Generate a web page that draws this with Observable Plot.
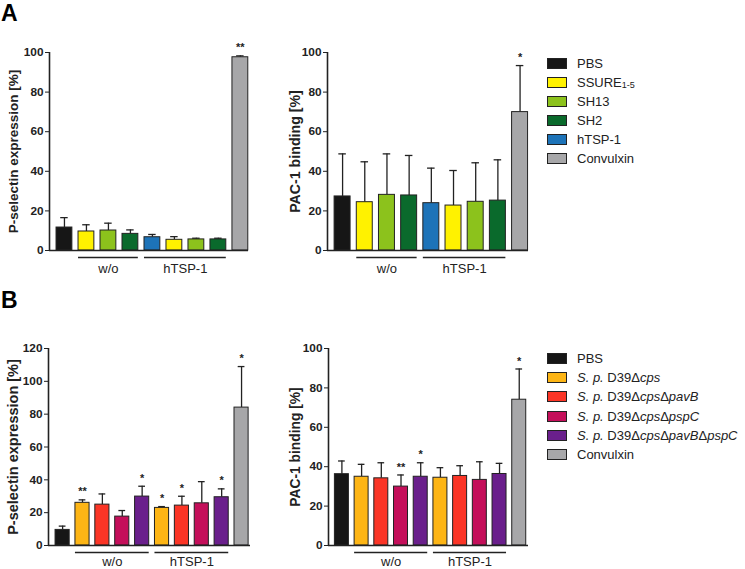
<!DOCTYPE html>
<html><head><meta charset="utf-8">
<script src="https://cdn.jsdelivr.net/npm/d3@7"></script>
<script src="https://cdn.jsdelivr.net/npm/@observablehq/plot@0.6"></script>
<style>
body{margin:0;background:#fff;font-family:Arial,"Liberation Sans",sans-serif;}
#root{position:relative;width:745px;height:569px;overflow:hidden;background:#fff}
.panel{position:absolute;overflow:visible}
.panel svg{overflow:visible}
.plab{position:absolute;font-weight:bold;font-size:23px;line-height:1}
.row{position:absolute;height:19px;display:flex;align-items:center;white-space:nowrap;font-size:13px;color:#222}
.sw{width:18px;height:9px;border:1px solid #222;margin-right:10px;flex:none}
sub{font-size:9px;vertical-align:baseline;position:relative;top:1px}
</style></head>
<body><div id="root"></div>
<script>
// ---------- Panel A data ----------
const seriesA = ["PBS","SSURE1-5","SH13","SH2","hTSP-1","Convulxin"];
const colorsA = ["#161616","#fff200","#8cc21c","#0a6a2c","#1d73b8","#a7a7a9"];
const barSeriesA = [0,1,2,3,4,1,2,3,5];            // which series each bar belongs to
const pselA     = [11.6, 9.6, 10.1, 8.4, 6.7, 5.4, 5.6, 5.6, 97.6];
const pselAtop  = [16.6, 13.0, 13.8, 10.4, 8.1, 7.0, 6.2, 6.2, 98.3];
const pselAstar = ["","","","","","","","","**"];
const pacA      = [27.3, 24.4, 28.1, 27.8, 23.9, 22.7, 24.6, 25.2, 69.9];
const pacAtop   = [48.8, 44.8, 48.8, 48.0, 41.6, 40.4, 44.3, 45.8, 93.4];
const pacAstar  = ["","","","","","","","","*"];
const groupsA = [{label:"w/o", from:1, to:3}, {label:"hTSP-1", from:4, to:7}];

// ---------- Panel B data ----------
const seriesB = ["PBS","S. p. D39Δcps","S. p. D39ΔcpsΔpavB","S. p. D39ΔcpsΔpspC","S. p. D39ΔcpsΔpavBΔpspC","Convulxin"];
const colorsB = ["#161616","#fdb515","#fb3526","#c40f5a","#6a1f8c","#a7a7a9"];
const barSeriesB = [0,1,2,3,4,1,2,3,4,5];
const pselB     = [9.5, 26.0, 24.9, 17.6, 29.8, 22.9, 24.3, 25.7, 29.4, 84.0];
const pselBtop  = [11.8, 27.8, 31.4, 21.3, 36.1, 23.7, 30.0, 38.9, 34.5, 109.0];
const pselBstar = ["","**","","","*","*","*","","*","*"];
const pacB      = [36.2, 34.9, 34.1, 29.9, 34.9, 34.4, 35.3, 33.3, 36.3, 74.0];
const pacBtop   = [42.9, 41.2, 42.0, 35.8, 42.0, 39.5, 40.5, 42.5, 41.7, 89.6];
const pacBstar  = ["","","","**","*","","","","","*"];
const groupsB = [{label:"w/o", from:1, to:4}, {label:"hTSP-1", from:5, to:8}];

const yTicksA = [0,20,40,60,80,100];
const yTicksB = [0,20,40,60,80,100,120];

function panel(o){
  const rows = o.values.map((v,i)=>({i, v, t:o.tops[i], c:o.colors[o.barSeries[i]], s:o.stars[i]}));
  const h = o.half, cap = 0.17;
  const ymax = o.ticks[o.ticks.length-1];
  const marks = [
      Plot.ruleX(rows, {x:"i", y1:"v", y2:"t", stroke:"#222", strokeWidth:1.3}),
      Plot.ruleY(rows, {y:"t", x1:d=>d.i-cap, x2:d=>d.i+cap, stroke:"#222", strokeWidth:1.3}),
      Plot.rectY(rows, {x1:d=>d.i-h, x2:d=>d.i+h, y1:0, y2:"v", fill:"c", stroke:"#222", strokeWidth:1}),
      Plot.text(rows.filter(d=>d.s), {x:"i", y:"t", text:"s", dy:-8, fontSize:11, fontWeight:"bold"}),
      Plot.ruleY([0], {stroke:"#222", strokeWidth:1.6}),
      Plot.ruleX([o.xdom[0]], {y1:0, y2:ymax, stroke:"#222", strokeWidth:1.6}),
      Plot.ruleY(o.groups, {y:0, x1:d=>d.from-h, x2:d=>d.to+h, dy:7, stroke:"#222", strokeWidth:1.4}),
      Plot.text(o.groups, {x:d=>(d.from+d.to)/2, y:0, text:"label", dy:o.gdy, fontSize:13, fontWeight:"normal"}),
      // y tick labels (bold, like the reference)
      Plot.text(o.ticks, {frameAnchor:"left", y:d=>d, text:d=>String(d), dx:-6, textAnchor:"end", fontSize:11.8, fontWeight:"bold", fill:"#222"}),
      Plot.text([o.label], {frameAnchor:"left", text:d=>d, rotate:-90, textAnchor:"middle", dx:o.ldx, fontSize:o.lfs, fontWeight:"bold"})
  ];
  return Plot.plot({
    width:o.width, height:o.height,
    marginLeft:o.ml, marginRight:2, marginTop:o.mt, marginBottom:o.mb,
    style:{fontFamily:"Arial, sans-serif", fontSize:"12px", color:"#222", overflow:"visible"},
    x:{domain:o.xdom, axis:null},
    y:{domain:[0,ymax], ticks:o.ticks, tickSize:4, tickFormat:()=>"", label:null},
    color:{type:"identity"},
    marks
  });
}

const root = document.getElementById("root");
function place(el, left, top){ const d=document.createElement("div"); d.className="panel"; d.style.left=left+"px"; d.style.top=top+"px"; d.appendChild(el); root.appendChild(d); }

place(panel({values:pselA, tops:pselAtop, stars:pselAstar, colors:colorsA, barSeries:barSeriesA, groups:groupsA,
  ticks:yTicksA, label:"P-selectin expression [%]", width:250, height:280, ml:49, mt:52, mb:30,
  xdom:[-0.68,8.37], half:0.36, ldx:-36, lfs:13.5, gdy:18}), 0, 0);
place(panel({values:pacA, tops:pacAtop, stars:pacAstar, colors:colorsA, barSeries:barSeriesA, groups:groupsA,
  ticks:yTicksA, label:"PAC-1 binding [%]", width:280, height:280, ml:77, mt:52, mb:30,
  xdom:[-0.68,8.38], half:0.36, ldx:-32, lfs:14.2, gdy:18}), 250, 0);
place(panel({values:pselB, tops:pselBtop, stars:pselBstar, colors:colorsB, barSeries:barSeriesB, groups:groupsB,
  ticks:yTicksB, label:"P-selectin expression [%]", width:252, height:299, ml:48, mt:78, mb:24,
  xdom:[-0.71,9.45], half:0.355, ldx:-35, lfs:14.5, gdy:16}), 0, 270);
place(panel({values:pacB, tops:pacBtop, stars:pacBstar, colors:colorsB, barSeries:barSeriesB, groups:groupsB,
  ticks:yTicksA, label:"PAC-1 binding [%]", width:280, height:299, ml:78, mt:78, mb:24,
  xdom:[-0.68,9.47], half:0.355, ldx:-33, lfs:13.8, gdy:16}), 250, 270);

// panel letters
for (const [txt, top] of [["A",2],["B",289]]) {
  const d=document.createElement("div"); d.className="plab"; d.textContent=txt; d.style.left="1px"; d.style.top=top+"px"; root.appendChild(d);
}

// legends
function legend(names, colors, top0, step, fmt){
  names.forEach((n,k)=>{
    const r=document.createElement("div"); r.className="row";
    r.style.left="547px"; r.style.top=(top0+k*step-9.5)+"px";
    const s=document.createElement("div"); s.className="sw"; s.style.background=colors[k];
    r.appendChild(s);
    const t=document.createElement("span"); t.innerHTML=fmt(n); r.appendChild(t);
    root.appendChild(r);
  });
}
legend(seriesA, colorsA, 63.3, 19, n => n==="SSURE1-5" ? "SSURE<sub>1-5</sub>" : n);
legend(seriesB, colorsB, 358.3, 19.3, n => {
  if (!n.startsWith("S. p.")) return n;
  const rest = n.slice(6); // D39Δ...
  const parts = rest.split("Δ");
  return "<i>S. p.</i> " + parts[0] + parts.slice(1).map(p=>"Δ<i>"+p+"</i>").join("");
});
</script>
</body></html>
